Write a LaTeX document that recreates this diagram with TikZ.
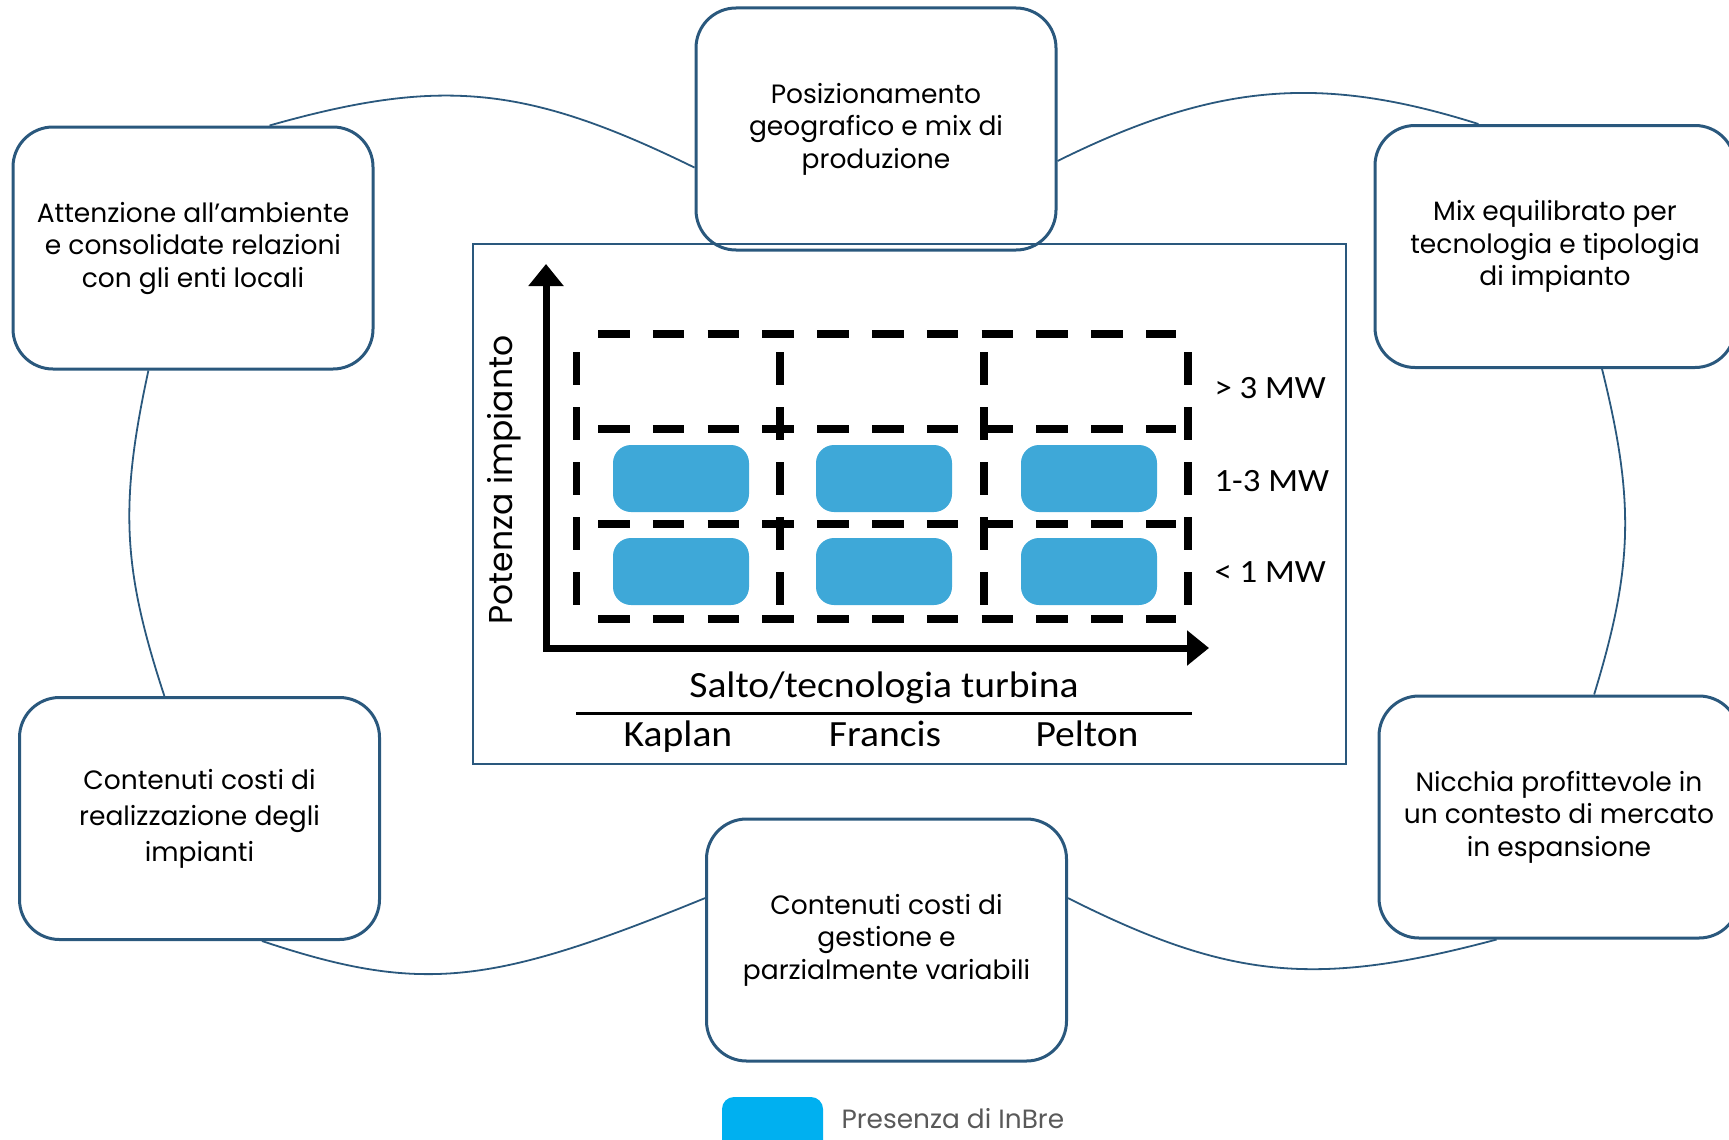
\documentclass[tikz,border=0pt]{standalone}
\usepackage{fontspec}
\setmainfont{Poppins}
\newfontfamily\carlito[FakeStretch=1.07]{Carlito}
\usepackage{xcolor}
\usetikzlibrary{arrows.meta}
\definecolor{boxblue}{RGB}{42,88,125}
\definecolor{cellblue}{RGB}{62,168,216}
\definecolor{legblue}{RGB}{0,176,240}
\definecolor{leggray}{RGB}{89,89,89}
\tikzset{>=latex}
\tikzset{
  box/.style={draw=boxblue,line width=3pt,rounded corners=40pt,minimum width=360pt,
    minimum height=242pt,align=center,font=\fontsize{26.5}{32.5}\selectfont},
  link/.style={draw=boxblue,line width=1.8pt},
  axis/.style={line width=7pt,{Triangle[length=22pt,width=34pt]}-{Triangle[length=22pt,width=34pt]}},
  hgrid/.style={line width=7.5pt,dash pattern=on 31.6pt off 23.2pt},
  vgrid/.style={line width=7.5pt,dash pattern=on 33pt off 22pt},
  cell/.style={fill=cellblue,rounded corners=18pt},
  chart/.style={font=\carlito\fontsize{37}{40}\selectfont,anchor=base},
  mw/.style={font=\carlito\fontsize{32.5}{40}\selectfont,anchor=base west}
}

\begin{document}
\begin{tikzpicture}[x=1pt,y=-1pt]
    \clip (0,0) rectangle (1729,1140);
    \node[box] (TL) at (193,248) {Attenzione all’ambiente\\e consolidate relazioni\\con gli enti locali};
    \node[box] (T) at (876,129) {Posizionamento\\geografico e mix di\\produzione};
    \node[box] (TR) at (1555,246.5) {Mix equilibrato per\\tecnologia e tipologia\\di impianto};
    \node[box,font=\fontsize{26.5}{36}\selectfont] (BL) at (199.5,818.5) {Contenuti costi di\\realizzazione degli\\impianti};
    \node[box] (B) at (886.5,940) {Contenuti costi di\\gestione e\\parzialmente variabili};
    \node[box] (BR) at (1559,817) {Nicchia profittevole in\\un contesto di mercato\\in espansione};

    \draw[link] (TL.58) .. controls (441,77) and (526,85) .. (T.192);
    \draw[link] (TL.250) .. controls (119,506) and (123,570) .. (BL.106);
    \draw[link] (BL.297) .. controls (421,994) and (490,986) .. (B.167);
    \draw[link] (T.350) .. controls (1215,83) and (1320,74) .. (TR.122);
    \draw[link] (TR.291) .. controls (1635,502) and (1633,567) .. (BR.74);
    \draw[link] (B.13) .. controls (1229,979) and (1315,988) .. (BR.243);

    \draw[boxblue,line width=1.5pt] (473,244) rectangle (1346,764);
    \coordinate (O) at (546,648);
    \draw[axis] (546,264) -- (O) -- (1209,648);
    \foreach \y in {334,429,524,619}
        \draw[hgrid] (598,\y) -- (1176,\y);
    \foreach \x in {576.5,780,984,1188}
        \draw[vgrid] (\x,352) -- (\x,605);
    \foreach \x in {613,816,1021}
        \foreach \y in {445,538}
            \fill[cell] (\x,\y) rectangle ++(136,67);

    \node[mw] (M3) at (1211,398) {> 3 MW};
    \node[mw] (M2) at (1211,491) {1-3 MW};
    \node[mw] (M1) at (1211,582) {< 1 MW};
    \node[rotate=90,anchor=base,font=\fontsize{33}{36}\selectfont] (YL) at (512,480) {Potenza impianto};
    \node[chart] (XL) at (884,697) {Salto/tecnologia turbina};
    \draw[line width=3pt] (576,713) -- (1192,713);
    \node[chart] (K) at (678,746) {Kaplan};
    \node[chart] (F) at (885,746) {Francis};
    \node[chart] (P) at (1087,746) {Pelton};

    \fill[legblue,rounded corners=12pt] (722,1097) rectangle (823,1160);
    \node[anchor=base west,text=leggray,font=\fontsize{26.4}{30}\selectfont] (LG) at (838,1128) {Presenza di InBre};
\end{tikzpicture}
\end{document}
